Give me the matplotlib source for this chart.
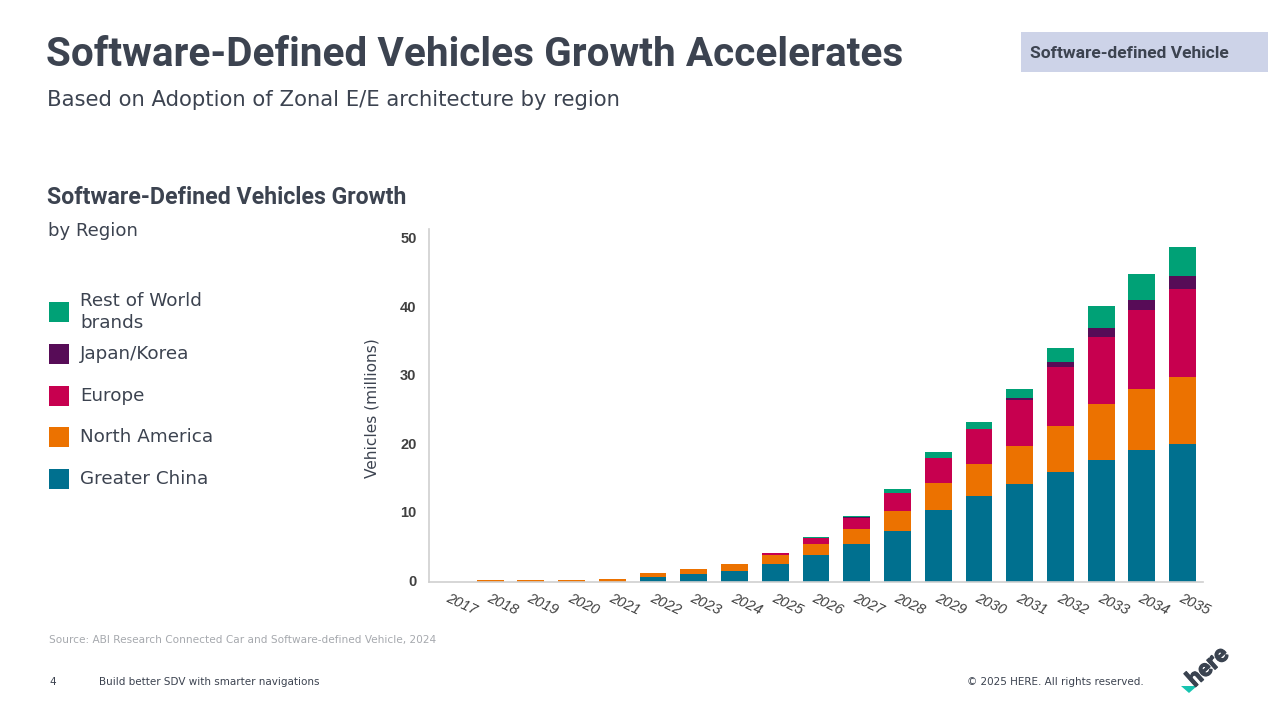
import matplotlib

matplotlib.use("Agg")

from matplotlib import patheffects  # noqa: E402
from matplotlib import pyplot as plt  # noqa: E402
from matplotlib.patches import Polygon, Rectangle  # noqa: E402
from matplotlib.transforms import ScaledTranslation  # noqa: E402

W, H = 1268, 707

YEARS = [str(y) for y in range(2017, 2036)]
GREATER_CHINA = [0, 0, 0, 0, 0, 0.7, 1.1, 1.65, 2.6, 3.9, 5.5, 7.4, 10.5, 12.5, 14.3, 16.1, 17.8, 19.2, 20.2]
NORTH_AMERICA = [0, 0.25, 0.35, 0.35, 0.5, 0.65, 0.75, 0.95, 1.3, 1.7, 2.2, 2.9, 3.9, 4.7, 5.5, 6.6, 8.1, 9.0, 9.7]
EUROPE = [0, 0, 0, 0, 0, 0, 0, 0, 0.3, 0.75, 1.7, 2.7, 3.7, 5.1, 6.8, 8.6, 9.8, 11.45, 12.8]
JAPAN_KOREA = [0, 0, 0, 0, 0, 0, 0, 0, 0, 0.02, 0.02, 0.05, 0.05, 0.05, 0.2, 0.8, 1.3, 1.55, 1.9]
REST_OF_WORLD = [0, 0, 0, 0, 0, 0, 0, 0, 0.1, 0.19, 0.28, 0.55, 0.75, 1.05, 1.4, 2.1, 3.2, 3.8, 4.3]

SERIES = [
    ("Greater China", GREATER_CHINA, "#00708f"),
    ("North America", NORTH_AMERICA, "#ec7200"),
    ("Europe", EUROPE, "#c7004f"),
    ("Japan/Korea", JAPAN_KOREA, "#570c57"),
    ("Rest of World\nbrands", REST_OF_WORLD, "#00a176"),
]
LEGEND_Y = {"Greater China": 478.5, "North America": 437, "Europe": 395.5, "Japan/Korea": 354, "Rest of World\nbrands": 312}

TEXT = "#3c4350"
BODY_FONT = ["DejaVu Sans"]
HEAD_FONT = ["Roboto", "DejaVu Sans"]
CHART_FONT = ["Liberation Sans", "DejaVu Sans"]


def fx(x):
    return x / W


def fy(y):
    return 1 - y / H


def put(fig, x, y, text, **kwargs):
    kwargs.setdefault("color", TEXT)
    kwargs.setdefault("va", "center")
    kwargs.setdefault("family", BODY_FONT)
    return fig.text(fx(x), fy(y), text, **kwargs)


fig = plt.figure(figsize=(W / 100, H / 100), dpi=100, facecolor="white")

# header
put(fig, 46, 55, "Software-Defined Vehicles Growth Accelerates", fontsize=29.15, fontweight="bold", family=HEAD_FONT)
put(fig, 47, 100, "Based on Adoption of Zonal E/E architecture by region", fontsize=15.2)
fig.add_artist(Rectangle((fx(1021), fy(72)), fx(247), 40 / H, transform=fig.transFigure, color="#cdd3e8", lw=0))
put(fig, 1030, 53, "Software-defined Vehicle", fontsize=12.5, fontweight="bold", family=HEAD_FONT)

# left column
put(fig, 47, 197, "Software-Defined Vehicles Growth", fontsize=16.7, fontweight="bold", family=HEAD_FONT)
put(fig, 48, 231, "by Region", fontsize=13.1)
for name, _, color in SERIES:
    y = LEGEND_Y[name]
    fig.add_artist(Rectangle((fx(49), fy(y + 10)), 20 / W, 20 / H, transform=fig.transFigure, color=color, lw=0))
    put(fig, 80, y, name, fontsize=13.2, linespacing=1.25)

# chart
ax = fig.add_axes([fx(429), fy(582), (1203 - 429) / W, (582 - 229) / H])
bottom = [0.0] * len(YEARS)
for name, values, color in SERIES:
    ax.bar(range(len(YEARS)), values, width=0.66, bottom=bottom, color=color, lw=0)
    bottom = [b + v for b, v in zip(bottom, values)]

ax.set_xlim(-0.5, len(YEARS) - 0.5)
ax.set_ylim(0, 51.5)
ax.set_yticks([0, 10, 20, 30, 40, 50])
ax.set_xticks(range(len(YEARS)), YEARS)
ax.tick_params(length=0)
ax.tick_params(axis="y", pad=9, labelsize=10.5, labelcolor="#404040")
for label in ax.get_yticklabels():
    label.set_fontweight("bold")
    label.set_family(CHART_FONT)
    label.set_verticalalignment("center")
ax.tick_params(axis="x", pad=16, labelsize=10.5, labelcolor="#404040")
shift = ScaledTranslation(12 / 100, 0, fig.dpi_scale_trans)
for label in ax.get_xticklabels():
    label.set_rotation(-25)
    label.set_rotation_mode("anchor")
    label.set_ha("center")
    label.set_va("center")
    label.set_style("italic")
    label.set_family(CHART_FONT)
    label.set_transform(label.get_transform() + shift)
for side in ("top", "right"):
    ax.spines[side].set_visible(False)
for side in ("left", "bottom"):
    ax.spines[side].set_color("#cfcfcf")
    ax.spines[side].set_linewidth(1.2)
put(fig, 372, 408, "Vehicles (millions)", fontsize=11.1, rotation=90, ha="center")

# footer
put(fig, 49, 640, "Source: ABI Research Connected Car and Software-defined Vehicle, 2024", fontsize=7.55, color="#a6a9ae")
put(fig, 49, 682, "4", fontsize=7.5)
put(fig, 99, 682, "Build better SDV with smarter navigations", fontsize=7.5)
put(fig, 1143.5, 682, "\u00a9 2025 HERE. All rights reserved.", fontsize=7.5, ha="right")

# logo
logo = put(fig, 1208, 667, "here", fontsize=17, fontweight="bold", rotation=42, ha="center", family=HEAD_FONT, color="#3a4350")
logo.set_path_effects([patheffects.withStroke(linewidth=0.8, foreground="#3a4350")])
tri = [(fx(1181), fy(686)), (fx(1197), fy(686)), (fx(1189), fy(693))]
fig.add_artist(Polygon(tri, closed=True, transform=fig.transFigure, color="#17c4b0", lw=0))

fig.savefig("out.png", dpi=100)
